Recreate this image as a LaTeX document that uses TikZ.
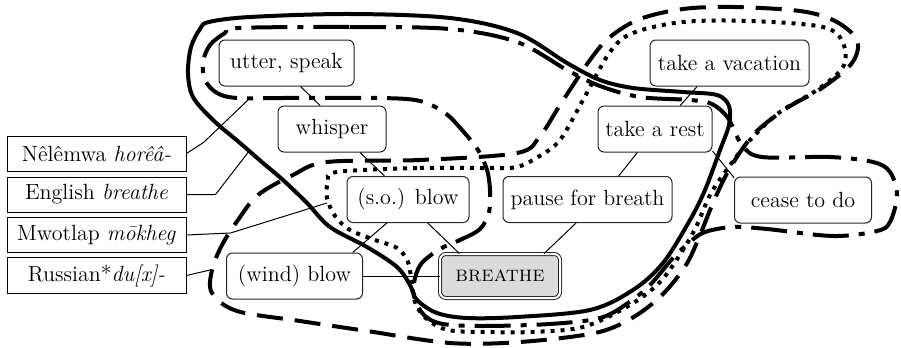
\documentclass[tikz,border=0pt]{standalone}
\usetikzlibrary{calc}
\tikzset{
  sense/.style={draw=black!85, line width=0.5pt, rounded corners=3pt, fill=white,
    minimum height=23pt, inner xsep=3pt, font=\fontsize{11}{13}\selectfont},
  hub/.style={sense, double, double distance=1pt, fill=black!14, minimum height=22pt},
  lang/.style={draw, line width=0.5pt, minimum width=89.5pt, minimum height=17.5pt,
    inner xsep=2pt, font=\fontsize{11}{13}\selectfont},
  link/.style={line width=0.5pt},
  hull/.style={line width=2pt},
  hulldash/.style={hull, dash pattern=on 13pt off 6pt},
  hulldot/.style={hull, dash pattern=on 2pt off 3pt},
  hulldashdot/.style={hull, dash pattern=on 18pt off 5pt on 3pt off 5pt},
}

\begin{document}
\begin{tikzpicture}[x=0.5pt, y=-0.5pt]
			%%%%% START %%%%%
			\useasboundingbox (0,0) rectangle (901,348);
			
			% senses
			\node[sense, minimum width=67.5pt] (utter) at (286.5, 63) {utter, speak};
			\node[sense, minimum width=54pt] (whisper) at (332, 129) {whisper};
			\node[sense, minimum width=79.5pt] (vac) at (729.5, 63) {take a vacation};
			\node[sense, minimum width=57pt] (rest) at (655, 129) {take a rest};
			\node[sense, minimum width=61pt] (sob) at (408, 199.5) {(s.o.) blow};
			\node[sense, minimum width=84.5pt] (pause) at (587.5, 199.5) {pause for breath};
			\node[sense, minimum width=68.5pt] (cease) at (803, 200) {cease to do};
			\node[sense, minimum width=68pt] (wb) at (294.5, 276) {(wind) blow};
			\node[hub, minimum width=60pt] (breathe) at (500, 276) {\textsc{breathe}};
			
			\draw[link] (utter.301) -- (whisper.117);
			\draw[link] (whisper.320) -- (sob.135);
			\draw[link] (sob.228) -- (wb.22);
			\draw[link] (sob.310) -- (breathe.151);
			\draw[link] (wb.east) -- (breathe.west);
			\draw[link] (pause.244) -- (breathe.27);
			\draw[link] (rest.233) -- (pause.37);
			\draw[link] (vac.216) -- (rest.43);
			\draw[link] (rest.339) -- (cease.162);
			
			% languages
			\node[lang] (nel) at (96.5, 153.5) {Nêlêmwa \textit{horêâ-}};
			\node[lang] (eng) at (96.5, 194.5) {English \textit{breathe}};
			\node[lang] (mwo) at (96.5, 235) {Mwotlap \textit{mōkheg}};
			\node[lang] (rus) at (96.5, 275.5) {Russian*\textit{du[x]-}};
			
			\coordinate (nelEnd) at (248, 100);
			\coordinate (engEnd) at (250, 150);
			\coordinate (mwoEnd) at (327, 203);
			\coordinate (rusEnd) at (210, 270);
			
			\draw[link] (nel.east) -- ++(17,-11) -- (nelEnd);
			\draw[link] (eng.east) -- ++(29,0) -- (engEnd);
			\draw[link] (mwo.east) -- ++(44,-2) -- (mwoEnd);
			\draw[link] (rus.east) -- (rusEnd);
			
			% English breathe
			\draw[hull] plot[smooth cycle, tension=0.55] coordinates {
				(200,29) (209,22) (250,17) (350,14) (450,18) (517,33) (567,63) (600,80)
				(633,88) (683,92) (717,95) (729,106) (729,125) (720,150) (705,190)
				(690,220) (663,263) (633,290) (590,310) (517,317) (467,318) (437,313)
				(417,300) (410,285) (397,267) (367,247) (330,227) (307,203) (283,180)
				(263,163) (240,143) (213,120) (193,97) (188,73) (191,47)};
			
			% Nelemwa
			\draw[hulldashdot] plot[smooth cycle, tension=0.55] coordinates {
				(238,28) (350,27) (450,29) (517,42) (567,70) (600,86) (640,97) (690,100)
				(712,104) (728,118) (742,145) (762,157) (830,157) (873,162) (890,172)
				(897,195) (890,222) (877,231) (833,236) (767,229) (733,227) (705,232)
				(690,242) (673,258) (650,285) (628,303) (600,318) (550,324) (483,326)
				(443,324) (425,316) (415,300) (414,283) (421,264) (440,249) (460,240)
				(480,229) (489,212) (490,190) (487,170) (478,150) (462,130) (445,113)
				(420,101) (380,98) (283,98) (237,98) (217,93) (205,80) (203,62)
				(210,45) (225,33)};
			
			% Mwotlap
			\draw[hulldot] plot[smooth cycle, tension=0.55] coordinates {
				(337,172) (420,168) (490,168) (517,167) (538,157) (560,140) (583,100)
				(610,52) (633,33) (683,22) (750,21) (823,27) (843,43) (843,67) (817,90)
				(780,112) (750,140) (728,168) (710,195) (697,225) (683,250) (660,282)
				(630,305) (583,327) (530,332) (483,332) (448,330) (428,320) (416,305)
				(412,285) (408,262) (397,248) (375,240) (350,230) (335,216) (327,198)
				(328,182)};
			
			% Russian
			\draw[hulldash] plot[smooth cycle, tension=0.55] coordinates {
				(293,175) (327,162) (420,160) (517,153) (540,136) (560,105) (590,60)
				(610,37) (640,19) (683,9) (733,7) (800,11) (835,21) (857,40) (852,63)
				(822,88) (787,108) (755,133) (730,168) (713,203) (700,235) (686,265)
				(662,295) (632,318) (595,333) (520,342) (450,343) (367,331) (300,321)
				(237,311) (212,293) (212,270) (222,245) (238,220) (258,195)};
			
			%%%%% END %%%%%
\end{tikzpicture}
\end{document}
